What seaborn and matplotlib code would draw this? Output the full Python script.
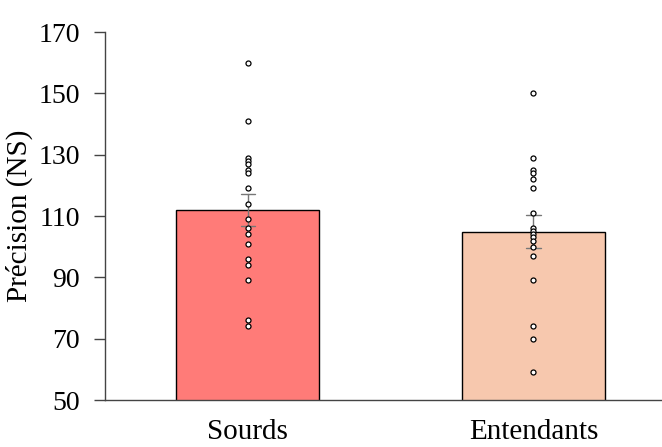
import matplotlib
matplotlib.use("Agg")
import matplotlib.pyplot as plt
import seaborn as sns
import pandas as pd

groups = ["Sourds", "Entendants"]
sourds = [160, 141, 129, 128, 127, 125, 124, 119, 114, 109, 106, 104, 101, 96, 94, 89, 76, 74]
entendants = [150, 129, 125, 124, 122, 119, 111, 106, 105, 104, 103, 102, 100, 97, 89, 74, 70, 59]
bar_colors = ["#FF7B78", "#F7C8AE"]
yticks = [50, 70, 90, 110, 130, 150, 170]

df = pd.DataFrame({
    "group": [groups[0]] * len(sourds) + [groups[1]] * len(entendants),
    "value": sourds + entendants,
})

sns.set_style("white")
plt.rcParams["font.family"] = ["Liberation Serif", "DejaVu Serif"]

fig = plt.figure(figsize=(6.62, 4.47), dpi=100)
ax = fig.add_axes([105 / 662, 47 / 447, 557 / 662, 368 / 447])

sns.barplot(data=df, x="group", y="value", hue="group", palette=bar_colors,
            order=groups, hue_order=groups, legend=False, saturation=1,
            errorbar="se", capsize=0.05, width=0.5,
            err_kws={"color": "#777777", "linewidth": 1.0},
            edgecolor="black", linewidth=1.0, ax=ax)
sns.stripplot(data=df, x="group", y="value", order=groups, jitter=False,
              color="white", edgecolor="black", linewidth=0.9, size=3.6,
              ax=ax, zorder=5)

ax.set_xlim(-0.5, 1.45)
ax.set_ylim(50, 170)
ax.set_yticks(yticks)
ax.set_yticklabels([str(t) for t in yticks])
ax.set_xlabel("")
ax.set_ylabel("Précision (NS)", fontsize=21, color="black", labelpad=4)
ax.tick_params(axis="y", which="major", left=True, length=8, width=1,
               color="#444444", labelsize=20, labelcolor="black", pad=10)
ax.tick_params(axis="x", bottom=False, labelsize=21, labelcolor="black", pad=10)
for s in ["top", "right"]:
    ax.spines[s].set_visible(False)
for s in ["left", "bottom"]:
    ax.spines[s].set_color("#444444")
    ax.spines[s].set_linewidth(1.0)

fig.savefig("out.png", dpi=100)
